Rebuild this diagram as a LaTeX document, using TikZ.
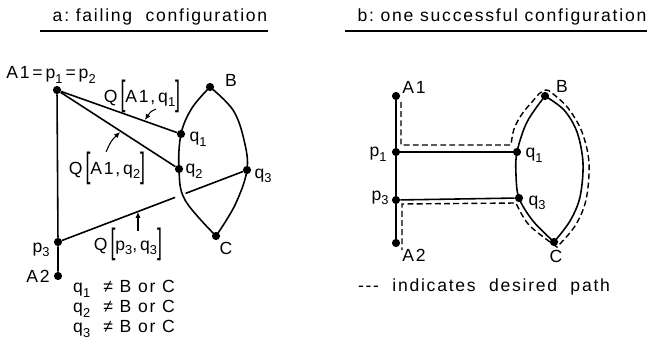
\documentclass[tikz,border=0pt]{standalone}
\usepackage{fontspec}
\setmainfont{Liberation Sans}[LetterSpace=10]
\usetikzlibrary{arrows.meta,calc}
\newcommand\lsb[1]{\raisebox{-0.5ex}{\fontsize{11}{11}\selectfont #1}}
\newcommand\lbr{\raisebox{-0.16em}{\scalebox{1}[2]{[}}}
\newcommand\rbr{\raisebox{-0.16em}{\scalebox{1}[2]{]}}}
\begin{document}
\begin{tikzpicture}[x=0.03cm,y=-0.03cm,
  every node/.style={inner sep=0pt, font=\fontsize{15}{17}\selectfont},
  dot/.style={circle, fill=black, minimum size=7pt},
  ln/.style={line width=1.35pt},
  ptr/.style={line width=0.9pt, -{Latex[length=5pt,width=4.5pt]}},
  dpath/.style={line width=1.2pt, dash pattern=on 5pt off 2.8pt},
  uline/.style={line width=1pt}]
\useasboundingbox (0,0) rectangle (647,344);

% ---------- titles ----------
\node (ta) at (160,17) {a:\ failing\ \ configuration};
\draw[uline] (40,31) -- (268,31);
\node (tb) at (502,17) {b:\ one\ successful\ configuration};
\draw[uline] (345,31) -- (647,31);

% ---------- panel a ----------
\node[dot] (aA1) at (57,90) {};
\node[dot] (aB) at (210,87) {};
\node[dot] (aq1) at (181,134) {};
\node[dot] (aq2) at (179,169) {};
\node[dot] (aq3) at (247,170) {};
\node[dot] (aC) at (216,236) {};
\node[dot] (ap3) at (58,242) {};
\node[dot] (aA2) at (58,276) {};

\node (laA1) at (51,75) {A1\,=\,p\lsb{1}\,=\,p\lsb{2}};
\node (laB) at (231,80) {B};
\node (laq1) at (198,139) {q\lsb{1}};
\node (laq2) at (194,171) {q\lsb{2}};
\node (laq3) at (263,176) {q\lsb{3}};
\node (laC) at (226,248) {C};
\node (lap3) at (41,250) {p\lsb{3}};
\node (laA2) at (38,276) {A2};

\draw[ln] (aA1) -- (aq1);
\draw[ln] (aA1) -- (aq2);
\draw[ln] (aA1) -- (ap3) -- (aA2);
\draw[ln] (ap3) -- ($(ap3)!0.62!(aq3)$);
\draw[ln] ($(ap3)!0.675!(aq3)$) -- (aq3);
\draw[ln] plot[smooth, tension=0.6] coordinates {(aB) (192,108) (aq1) (aq2) (185,200) (aC)};
\draw[ln] plot[smooth, tension=0.6] coordinates {(aB) (233,110) (244,140) (aq3) (235,205) (aC)};

\node (Q1) at (142,96) {Q\,\lbr A1,\,q\lsb{1}\rbr};
\node (Q2) at (107,168) {Q\,\lbr A1,\,q\lsb{2}\rbr};
\node (Q3) at (128,244) {Q\,\lbr p\lsb{3},\,q\lsb{3}\rbr};
\coordinate (s1) at (156,109);
\coordinate (e1) at (145,120);
\coordinate (s2) at (106,152);
\coordinate (e2) at (120,132);
\coordinate (s3) at (138,231);
\coordinate (e3) at (138,212);
\draw[ptr] (s1) .. controls (150,112) .. (e1);
\draw[ptr] (s2) .. controls (111,141) .. (e2);
\draw[ptr] (s3) -- (e3);

\node[anchor=west] (n1) at (73,289) {q\lsb{1}\ \ ≠\ B or C};
\node[anchor=west] (n2) at (73,309) {q\lsb{2}\ \ ≠\ B or C};
\node[anchor=west] (n3) at (73,329) {q\lsb{3}\ \ ≠\ B or C};

% ---------- panel b ----------
\node[dot] (bA1) at (396,96) {};
\node[dot] (bp1) at (396,152) {};
\node[dot] (bp3) at (396,200) {};
\node[dot] (bA2) at (396,243) {};
\node[dot] (bq1) at (517,152) {};
\node[dot] (bq3) at (519,198) {};
\node[dot] (bB) at (545,96) {};
\node[dot] (bC) at (554,242) {};

\node (lbA1) at (414,87) {A1};
\node (lbB) at (562,86) {B};
\node (lbp1) at (378,154) {p\lsb{1}};
\node (lbq1) at (534,155) {q\lsb{1}};
\node (lbp3) at (380,198) {p\lsb{3}};
\node (lbq3) at (537,203) {q\lsb{3}};
\node (lbA2) at (414,255) {A2};
\node (lbC) at (556,256) {C};

\draw[ln] (bA1) -- (bp1) -- (bp3) -- (bA2);
\draw[ln] (bp1) -- (bq1);
\draw[ln] (bp3) -- (bq3);
\draw[ln] plot[smooth, tension=0.55] coordinates {(bB) (527,122) (bq1) (516,175) (bq3) (533,221) (bC)};
\draw[ln] plot[smooth, tension=0.55] coordinates {(bB) (564,110) (577,132) (583,163) (580,197) (570,221) (bC)};

\draw[dpath] (401,102) -- (401,145) -- (511,145)
  -- plot[smooth, tension=0.55] coordinates {(511,145) (514,129) (522,114) (532,102) (540,93) (546,90) (552,93) (568,108) (582,132) (589,163) (586,200) (575,226) (557,247)}
  -- plot[smooth, tension=0.55] coordinates {(557,247) (529,225) (516,203)}
  -- (402,204) -- (402,250);

\node (leg) at (484,287) {-{}-{}-\ \ indicates\ \ desired\ \ path};
\end{tikzpicture}
\end{document}
